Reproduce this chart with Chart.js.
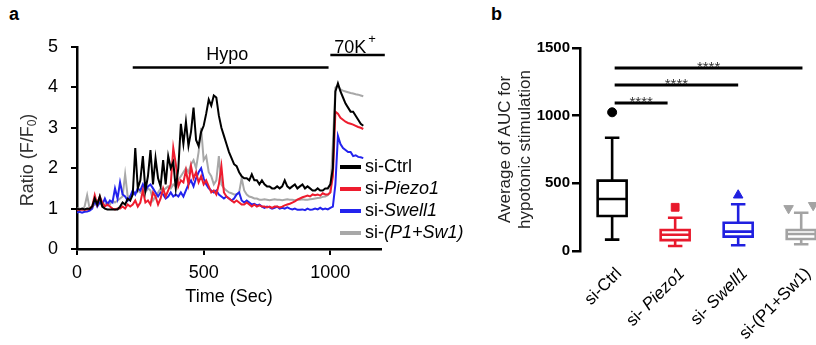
<!DOCTYPE html>
<html>
<head>
<meta charset="utf-8">
<script src="https://cdn.jsdelivr.net/npm/chart.js@4.4.1/dist/chart.umd.min.js"></script>
<style>
  html, body { margin: 0; padding: 0; background: #fff; overflow: hidden; }
  body { width: 816px; height: 345px; position: relative; font-family: "Liberation Sans", Arial, sans-serif; }
  #chartA { position: absolute; left: 0; top: 0; }
  #chartB { position: absolute; left: 480px; top: 0; }
  .panel { position: absolute; font-weight: bold; font-size: 18px; color: #000; }
</style>
</head>
<body>
<div class="panel" style="left:9px;top:4px">a</div>
<div class="panel" style="left:491px;top:4px">b</div>
<canvas id="chartA" width="476" height="345"></canvas>
<canvas id="chartB" width="380" height="345"></canvas>
<script>
// ---- panel a: calcium ratio traces ----
const timeSec = [
  0, 10, 20, 30, 40, 50, 60, 70, 80, 90,
  100, 110, 120, 130, 140, 150, 160, 170, 180, 190,
  200, 210, 220, 230, 240, 250, 260, 270, 280, 290,
  300, 310, 320, 330, 340, 350, 360, 370, 380, 390,
  400, 410, 420, 430, 440, 450, 460, 470, 480, 490,
  500, 510, 520, 530, 540, 550, 560, 570, 580, 590,
  600, 610, 620, 630, 640, 650, 660, 670, 680, 690,
  700, 710, 720, 730, 740, 750, 760, 770, 780, 790,
  800, 810, 820, 830, 840, 850, 860, 870, 880, 890,
  900, 910, 920, 930, 940, 950, 960, 970, 980, 990,
  1000, 1010, 1020, 1030, 1040, 1050, 1060, 1070, 1080, 1090,
  1100, 1110, 1120, 1130
];
const ratioCtrl = [
  1.00, 0.98, 1.00, 0.98, 1.00, 0.99, 1.05, 1.25, 1.10, 1.30,
  1.05, 1.00, 0.98, 0.98, 0.98, 0.98, 0.98, 1.05, 1.15, 1.10,
  1.25, 1.20, 1.35, 2.50, 1.50, 1.70, 2.30, 1.45, 1.80, 2.45,
  1.60, 2.25, 1.75, 1.55, 2.20, 1.60, 2.30, 2.00, 2.15, 1.50,
  2.00, 3.10, 2.60, 3.15, 2.55, 2.90, 3.50, 2.70, 2.55, 2.90,
  3.05, 3.35, 3.70, 3.55, 3.80, 3.75, 3.30, 3.00, 2.80, 2.60,
  2.40, 2.25, 2.10, 2.05, 1.90, 1.80, 1.75, 1.75, 1.70, 1.85,
  1.70, 1.70, 1.60, 1.70, 1.60, 1.55, 1.55, 1.50, 1.50, 1.55,
  1.50, 1.55, 1.70, 1.55, 1.50, 1.55, 1.60, 1.50, 1.55, 1.60,
  1.50, 1.55, 1.50, 1.45, 1.45, 1.50, 1.45, 1.45, 1.50, 1.50,
  1.60, 2.00, 3.90, 4.10, 3.90, 3.75, 3.60, 3.50, 3.40, 3.40,
  3.30, 3.20, 3.10, 3.05
];
const ratioPiezo1 = [
  0.97, 0.97, 0.98, 0.97, 0.98, 1.00, 1.05, 1.33, 1.10, 1.30,
  1.15, 1.05, 1.10, 1.05, 1.00, 0.98, 1.00, 1.00, 1.05, 1.00,
  1.10, 1.05, 1.10, 1.20, 1.05, 1.15, 1.45, 1.15, 1.20, 1.10,
  1.40, 1.30, 1.10, 1.25, 1.50, 1.30, 1.45, 1.60, 2.50, 2.10,
  1.55, 1.70, 1.65, 1.95, 1.60, 2.05, 1.75, 1.90, 1.65, 1.80,
  1.60, 1.70, 1.55, 1.40, 1.45, 1.35, 1.60, 2.05, 1.40, 1.30,
  1.25, 1.20, 1.15, 1.20, 1.15, 1.10, 1.10, 1.15, 1.10, 1.05,
  1.10, 1.05, 1.08, 1.05, 1.05, 1.03, 1.05, 1.02, 1.05, 1.05,
  1.03, 1.05, 1.08, 1.10, 1.12, 1.15, 1.18, 1.22, 1.25, 1.28,
  1.30, 1.32, 1.30, 1.35, 1.33, 1.35, 1.32, 1.38, 1.35, 1.35,
  1.40, 1.80, 3.40, 3.35, 3.25, 3.20, 3.15, 3.12, 3.10, 3.08,
  3.05, 3.02, 3.00, 2.97
];
const ratioSwell1 = [
  0.90, 0.92, 0.90, 0.92, 0.93, 0.95, 1.00, 1.20, 1.05, 1.15,
  1.10, 1.25, 1.10, 1.20, 1.15, 1.50, 1.25, 1.65, 1.35, 1.30,
  1.20, 1.30, 1.45, 1.35, 1.50, 1.45, 1.60, 1.45, 1.55, 1.60,
  1.50, 1.40, 1.30, 1.40, 1.35, 1.25, 1.30, 1.40, 1.30, 1.35,
  1.30, 1.40, 1.30, 1.45, 1.60, 1.70, 1.55, 1.75, 1.90, 2.00,
  1.75, 1.60, 1.50, 1.45, 1.40, 1.45, 1.35, 1.30, 1.25, 1.30,
  1.25, 1.20, 1.25, 1.35, 1.40, 1.20, 1.15, 1.20, 1.15, 1.10,
  1.12, 1.08, 1.10, 1.05, 1.02, 1.05, 1.03, 1.00, 1.02, 1.05,
  1.00, 1.02, 1.00, 1.03, 1.00, 0.98, 1.00, 0.97, 0.97, 0.98,
  0.96, 1.00, 0.97, 0.98, 1.00, 0.98, 1.02, 0.98, 1.00, 0.98,
  1.02, 1.05, 1.60, 2.80, 2.60, 2.50, 2.45, 2.40, 2.40, 2.30,
  2.32, 2.28, 2.27, 2.25
];
const ratioP1Sw1 = [
  1.00, 1.00, 0.98, 1.05, 1.33, 1.00, 1.05, 1.10, 1.20, 1.15,
  1.05, 1.10, 1.15, 1.10, 1.20, 1.15, 1.20, 1.25, 1.30, 1.85,
  1.30, 1.30, 1.35, 1.40, 1.45, 1.40, 1.50, 1.40, 1.50, 1.45,
  1.20, 1.30, 1.40, 1.50, 1.45, 1.50, 1.55, 1.50, 1.60, 1.55,
  1.70, 1.80, 1.90, 2.00, 1.90, 2.10, 2.20, 2.00, 2.40, 3.00,
  2.20, 2.30, 1.90, 1.80, 1.60, 1.70, 2.30, 1.60, 1.50, 1.45,
  1.40, 1.38, 1.35, 1.35, 1.40, 1.75, 1.45, 1.35, 1.30, 1.28,
  1.25, 1.25, 1.22, 1.22, 1.23, 1.22, 1.21, 1.22, 1.23, 1.22,
  1.22, 1.21, 1.22, 1.23, 1.22, 1.22, 1.21, 1.22, 1.22, 1.23,
  1.22, 1.22, 1.23, 1.24, 1.25, 1.26, 1.27, 1.29, 1.30, 1.33,
  1.40, 2.60, 4.00, 4.05, 3.95, 3.92, 3.90, 3.88, 3.86, 3.85,
  3.83, 3.82, 3.80, 3.78
];
const timeTicks = [0, 500, 1000];
// stimulus periods (sec) and the ratio level their bars sit at
const hypoPeriod = [220, 993];
const hypoLevel = 4.49;
const kPeriod = [1000, 1215];
const kLevel = 4.8;

const traceNames = ['si-', 'si-', 'si-', 'si-'];
const traceGenes = ['Ctrl', 'Piezo1', 'Swell1', '(P1+Sw1)'];
const traceItalic = [false, true, true, true];
const traceColors = ['#000000', '#ee1c2e', '#2323ee', '#a8a8a8'];
const traceValues = [ratioCtrl, ratioPiezo1, ratioSwell1, ratioP1Sw1];

// ---- panel b: AUC box plot ----
const groupHead = ['si-Ctrl', 'si- ', 'si- ', 'si-(P1+Sw1)'];
const groupGene = ['', 'Piezo1', 'Swell1', ''];
const groupColors = ['#000000', '#e8192c', '#2020e0', '#a3a3a3'];
const aucMin = [84, 37, 42, 50];
const aucQ1 = [259, 80, 106, 89];
const aucMedian = [384, 120, 143, 126];
const aucQ3 = [520, 155, 209, 155];
const aucMax = [837, 246, 345, 283];
const aucTicks = [0, 500, 1000, 1500];
const outlierGroup = [1, 2, 3, 4, 4];
const outlierX = [1, 2, 3, 3.8, 4.19];
const outlierY = [1025, 323, 412, 315, 338];
const outlierShape = ['circle', 'rect', 'triangle', 'triangle', 'triangle'];
const outlierRot = [0, 0, 0, 180, 180];
const sigFrom = [1.04, 1.04, 1.04];
const sigTo = [1.88, 3.0, 4.02];
const sigY = [1094, 1227, 1352];
const sigText = '****';

const FONT = '"Liberation Sans", Arial, sans-serif';
Chart.defaults.font.family = FONT;
Chart.defaults.color = '#000';
Chart.defaults.animation = false;

// ----- chart a -----
const traceSets = traceValues.map((vals, i) => ({
  data: timeSec.map((t, j) => ({ x: t, y: vals[j] })),
  borderColor: traceColors[i],
  borderWidth: 2,
  pointRadius: 0,
  tension: 0,
  fill: false
}));
traceSets.push({
  data: [{ x: hypoPeriod[0], y: hypoLevel }, { x: hypoPeriod[1], y: hypoLevel }],
  borderColor: '#000', borderWidth: 2.5, pointRadius: 0, clip: false
});
traceSets.push({
  data: [{ x: kPeriod[0], y: kLevel }, { x: kPeriod[1], y: kLevel }],
  borderColor: '#000', borderWidth: 2.5, pointRadius: 0, clip: false
});

function drawParts(ctx, parts, x, y) {
  // parts: [text, fontString, yShift]; drawn left to right from x
  let cx = x;
  parts.forEach(p => {
    ctx.font = p[1];
    ctx.fillText(p[0], cx, y + (p[2] || 0));
    cx += ctx.measureText(p[0]).width;
  });
}
function partsWidth(ctx, parts) {
  let w = 0;
  parts.forEach(p => { ctx.font = p[1]; w += ctx.measureText(p[0]).width; });
  return w;
}

const panelAText = {
  id: 'panelAText',
  afterDraw(chart) {
    const ctx = chart.ctx;
    const xs = chart.scales.x, ys = chart.scales.y;
    ctx.save();
    ctx.fillStyle = '#000';
    ctx.textBaseline = 'alphabetic';
    ctx.textAlign = 'center';
    ctx.font = '18px ' + FONT;
    ctx.fillText('Hypo', xs.getPixelForValue(593), ys.getPixelForValue(4.68));
    ctx.textAlign = 'left';
    const kx = xs.getPixelForValue(1015), ky = ys.getPixelForValue(4.86);
    ctx.fillText('70K', kx, ky);
    const kw = ctx.measureText('70K').width;
    ctx.font = '13px ' + FONT;
    ctx.fillText('+', kx + kw + 2, ky - 10);

    // legend
    ctx.textBaseline = 'middle';
    traceColors.forEach((c, i) => {
      const y = 167 + 22 * i;
      ctx.strokeStyle = c;
      ctx.lineWidth = 4;
      ctx.beginPath();
      ctx.moveTo(340, y);
      ctx.lineTo(361, y);
      ctx.stroke();
      ctx.fillStyle = '#000';
      drawParts(ctx, [[traceNames[i], '18px ' + FONT],
        [traceGenes[i], (traceItalic[i] ? 'italic ' : '') + '18px ' + FONT]], 365, y);
    });

    // y title with subscript
    ctx.translate(28, 160);
    ctx.rotate(-Math.PI / 2);
    ctx.fillStyle = '#333';
    const parts = [['Ratio (F/F', '18px ' + FONT], ['0', '12px ' + FONT, 5], [')', '18px ' + FONT]];
    const w = partsWidth(ctx, parts);
    drawParts(ctx, parts, -w / 2, 0);
    ctx.restore();
  }
};

new Chart(document.getElementById('chartA'), {
  type: 'line',
  data: { datasets: traceSets },
  options: {
    responsive: false,
    layout: { padding: { top: 47, right: 95, left: 0, bottom: 0 } },
    plugins: { legend: { display: false }, tooltip: { enabled: false } },
    scales: {
      x: {
        type: 'linear', min: 0, max: 1200,
        afterBuildTicks: s => { s.ticks = timeTicks.map(v => ({ value: v })); },
        ticks: { maxRotation: 0, padding: 7, font: { size: 18 }, color: '#000', callback: v => String(v) },
        grid: { drawOnChartArea: false, drawTicks: true, tickLength: 6, color: '#000', lineWidth: 2 },
        border: { color: '#000', width: 2.5 },
        title: { display: true, text: 'Time (Sec)', font: { size: 18 }, color: '#000', padding: { top: 0, bottom: 37 } },
        afterFit: s => { s.height = 96; }
      },
      y: {
        min: 0, max: 5,
        ticks: { stepSize: 1, padding: 13, font: { size: 18 }, color: '#000', callback: v => String(v) },
        grid: { drawOnChartArea: false, drawTicks: true, tickLength: 6, color: '#000', lineWidth: 2 },
        border: { color: '#000', width: 2.5 },
        afterFit: s => { s.width = 77; }
      }
    }
  },
  plugins: [panelAText]
});

// ----- chart b -----
function boxPoints(i) {
  const c = i + 1, hw = 0.23, cw = 0.115;
  const gap = { x: c, y: null };
  return [
    { x: c - hw, y: aucQ1[i] }, { x: c + hw, y: aucQ1[i] }, { x: c + hw, y: aucQ3[i] },
    { x: c - hw, y: aucQ3[i] }, { x: c - hw, y: aucQ1[i] }, { x: c + hw, y: aucQ1[i] }, gap,
    { x: c - hw, y: aucMedian[i] }, { x: c + hw, y: aucMedian[i] }, gap,
    { x: c, y: aucQ3[i] }, { x: c, y: aucMax[i] }, gap,
    { x: c - cw, y: aucMax[i] }, { x: c + cw, y: aucMax[i] }, gap,
    { x: c, y: aucQ1[i] }, { x: c, y: aucMin[i] }, gap,
    { x: c - cw, y: aucMin[i] }, { x: c + cw, y: aucMin[i] }
  ];
}

const boxSets = groupColors.map((col, i) => ({
  data: boxPoints(i),
  showLine: true, spanGaps: false,
  borderColor: col, borderWidth: 2.6, borderJoinStyle: 'miter',
  pointRadius: 0
}));
outlierY.forEach((v, k) => {
  const col = groupColors[outlierGroup[k] - 1];
  boxSets.push({
    data: [{ x: outlierX[k], y: v }],
    pointStyle: outlierShape[k], rotation: outlierRot[k],
    pointRadius: outlierShape[k] === 'circle' ? 4.5 : 5.5,
    backgroundColor: col, borderColor: col, borderWidth: 1
  });
});
sigY.forEach((v, k) => {
  boxSets.push({
    data: [{ x: sigFrom[k], y: v }, { x: sigTo[k], y: v }],
    showLine: true, borderColor: '#000', borderWidth: 3, pointRadius: 0, clip: false
  });
});

const panelBText = {
  id: 'panelBText',
  afterDraw(chart) {
    const ctx = chart.ctx;
    const xs = chart.scales.x, ys = chart.scales.y;
    const area = chart.chartArea;
    ctx.save();
    ctx.fillStyle = '#000';
    // category labels, rotated
    groupHead.forEach((h, i) => {
      ctx.save();
      ctx.translate(xs.getPixelForValue(i + 1) + 7, area.bottom + 20);
      ctx.rotate(-Math.PI / 4);
      ctx.textBaseline = 'middle';
      ctx.textAlign = 'left';
      const parts = [[h, '17px ' + FONT], [groupGene[i], 'italic 17px ' + FONT]];
      const w = partsWidth(ctx, parts);
      drawParts(ctx, parts, -w, 0);
      ctx.restore();
    });
    // significance stars
    ctx.fillStyle = '#333';
    ctx.textAlign = 'center';
    ctx.textBaseline = 'alphabetic';
    ctx.font = '15px ' + FONT;
    sigY.forEach((v, k) => {
      const mx = (xs.getPixelForValue(sigFrom[k]) + xs.getPixelForValue(sigTo[k])) / 2;
      ctx.fillText(sigText, mx, ys.getPixelForValue(v) + 4);
    });
    ctx.restore();
  }
};

new Chart(document.getElementById('chartB'), {
  type: 'scatter',
  data: { datasets: boxSets },
  options: {
    responsive: false,
    layout: { padding: { top: 48, right: 0, left: 0, bottom: 94 } },
    plugins: { legend: { display: false }, tooltip: { enabled: false } },
    scales: {
      x: { type: 'linear', min: 0.49, max: 4.83, display: false },
      y: {
        min: 0, max: 1500,
        afterBuildTicks: s => { s.ticks = aucTicks.map(v => ({ value: v })); },
        ticks: { padding: 2, font: { size: 15, weight: 'bold' }, color: '#000', callback: v => String(v) },
        grid: { drawOnChartArea: false, drawTicks: true, tickLength: 8, color: '#000', lineWidth: 2.5 },
        border: { color: '#000', width: 2.5 },
        title: {
          display: true, text: ['Average of AUC for', 'hypotonic stimulation'],
          font: { size: 17 }, color: '#222', padding: { top: 15, bottom: 0 }
        },
        afterFit: s => { s.width = 100; }
      }
    }
  },
  plugins: [panelBText]
});
</script>
</body>
</html>
